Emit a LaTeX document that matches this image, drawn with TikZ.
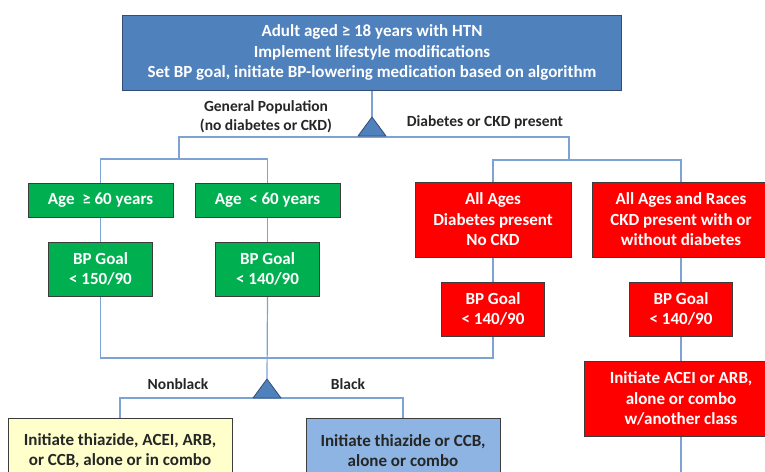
\documentclass[tikz,border=0pt]{standalone}
\usepackage{fontspec}
\setmainfont{Carlito}
\usetikzlibrary{positioning,backgrounds}
\definecolor{hdrblue}{RGB}{79,129,189}
\definecolor{hdredge}{RGB}{50,78,115}
\definecolor{grass}{RGB}{0,176,80}
\definecolor{alarm}{RGB}{255,0,0}
\definecolor{paleyellow}{RGB}{255,255,204}
\definecolor{lowblue}{RGB}{141,180,226}
\definecolor{wire}{RGB}{126,162,212}
\definecolor{fontgray}{RGB}{38,38,38}
\definecolor{boxedge}{RGB}{60,60,60}

\begin{document}
\begin{tikzpicture}[x=1pt, y=-1pt, node distance=24pt,
			box/.style={rectangle, draw=boxedge, line width=1pt, inner sep=0pt, align=center, font=\bfseries\fontsize{17}{20.5}\selectfont},
			hdrbox/.style={box, fill=hdrblue, draw=hdredge, text=white, minimum width=499pt, minimum height=75pt},
			agebox/.style={box, fill=grass, text=white, minimum width=145pt, minimum height=34pt},
			goalbox/.style={box, fill=grass, text=white, minimum width=104pt, minimum height=54pt},
			redbox/.style={box, fill=alarm, text=white, minimum height=75pt},
			redgoal/.style={box, fill=alarm, text=white, minimum width=103pt, minimum height=54pt},
			rxbox/.style={box, text=fontgray, minimum height=65pt},
			lbl/.style={draw=none, inner sep=0pt, align=center, text=fontgray, font=\bfseries\fontsize{15.5}{19}\selectfont},
			wireLine/.style={line width=1.2pt, -, color=wire},
			fork/.style={fill=hdrblue, draw=hdredge, line width=0.8pt, line join=round}
			]
			\useasboundingbox (0,0) rectangle (765,471);
			\clip (0,0) rectangle (765,471);
			
			\node[hdrbox](hdr) at (372,52.5) {Adult aged ≥ 18 years with HTN\\Implement lifestyle modifications\\Set BP goal, initiate BP-lowering medication based on algorithm};
			
			\node[agebox](age0) at (100.5,200) {Age \ ≥ 60 years};
			\node[agebox](age1) at (267.5,200) {Age \ < 60 years};
			\node[goalbox](goal0) [below = of age0] {BP Goal\\< 150/90};
			\node[goalbox](goal1) [below = of age1] {BP Goal\\< 140/90};
			
			\node[redbox, minimum width=156pt](dm) at (493,219.5) {All Ages\\Diabetes present\\No CKD};
			\node[redbox, minimum width=178pt](ckd) at (681,219.5) {All Ages and Races\\CKD present with or\\without diabetes};
			\node[redgoal](dmgoal) [below = of dm] {BP Goal\\< 140/90};
			\node[redgoal](ckdgoal) [below = of ckd] {BP Goal\\< 140/90};
			\node[redbox, minimum width=194pt](ckdrx) [below = of ckdgoal] {Initiate ACEI or ARB,\\alone or combo\\w/another class};
			
			\node[rxbox, fill=paleyellow, minimum width=224pt](nbrx) at (120,450.5) {Initiate thiazide, ACEI, ARB,\\or CCB, alone or in combo};
			\node[rxbox, fill=lowblue, minimum width=194pt](brx) at (403,450.5) {Initiate thiazide or CCB,\\alone or combo};
			
			\node[lbl](genpop) at (266,116.5) {General Population\\(no diabetes or CKD)};
			\node[lbl](dmckd) at (485,122) {Diabetes or CKD present};
			\node[lbl](nonblack) at (178,384) {Nonblack};
			\node[lbl](black) at (348,384) {Black};
			
			\coordinate (fork0) at (372,117);
			\coordinate (hub0) at (372,137);
			\coordinate (split0) at (179,159);
			\coordinate (split1) at (569,160);
			\coordinate (join0) at (267,358);
			\coordinate (fork1) at (267,379);
			\coordinate (hub1) at (267,398);
			\coordinate (exit0) at (681,480);
			
			\begin{pgfonlayer}{background}
			\draw [wireLine] (hdr.south) to (fork0);
			\draw [wireLine] (hub0) -| (split0);
			\draw [wireLine] (age0.north) |- (split0) -| (age1.north);
			\draw [wireLine] (hub0) -| (split1);
			\draw [wireLine] (dm.north) |- (split1) -| (ckd.north);
			\draw [wireLine] (age0) to (goal0);
			\draw [wireLine] (age1) to (goal1);
			\draw [wireLine] (dm) to (dmgoal);
			\draw [wireLine] (ckd) to (ckdgoal);
			\draw [wireLine] (ckdgoal) to (ckdrx);
			\draw [wireLine] (ckdrx) to (exit0);
			\draw [wireLine] (goal0.south) |- (join0) -| (dmgoal.south);
			\draw [wireLine] (goal1.south) to (fork1);
			\draw [wireLine] (nbrx.north) |- (hub1) -| (brx.north);
			\end{pgfonlayer}
			
			\draw [fork] (fork0) -- ++(14,19) -- ++(-28,0) -- cycle;
			\draw [fork] (fork1) -- ++(14,19) -- ++(-28,0) -- cycle;
			\end{tikzpicture}
\end{document}
